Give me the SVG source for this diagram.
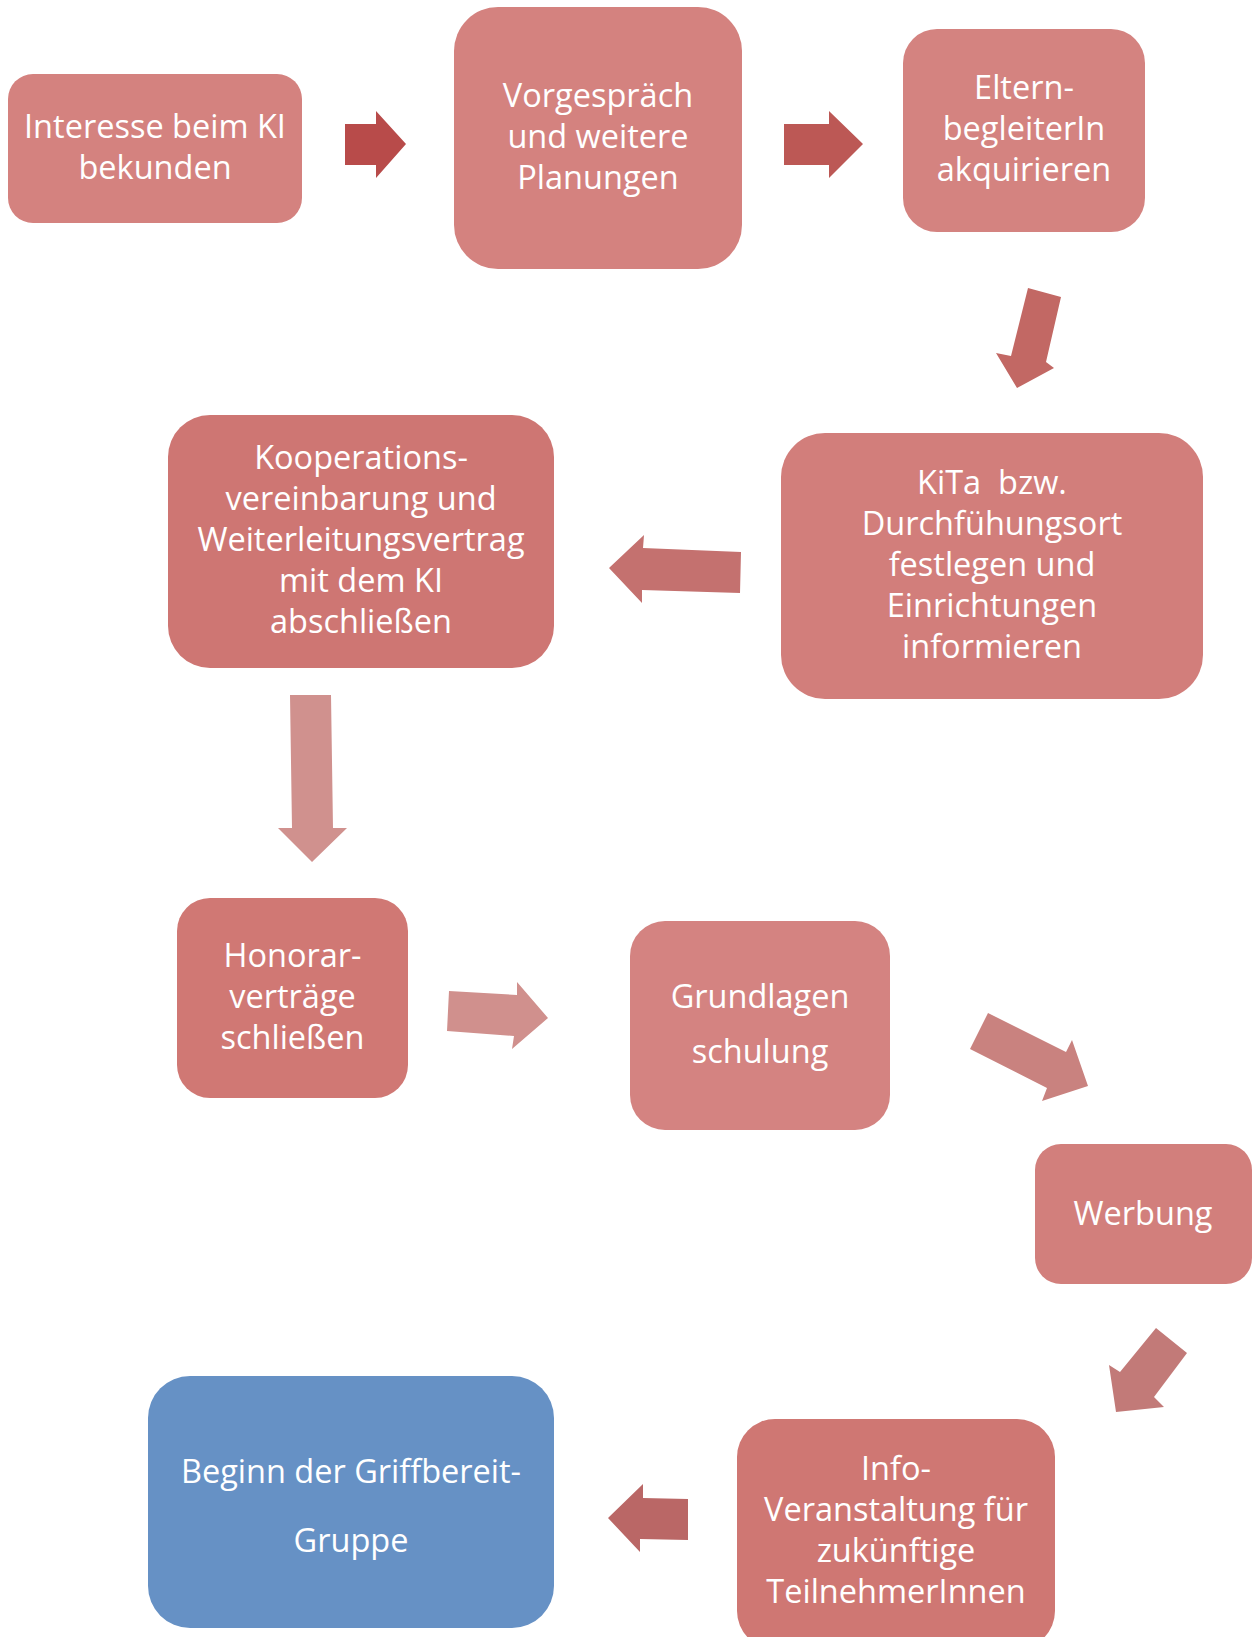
<svg xmlns="http://www.w3.org/2000/svg" width="1252" height="1637" viewBox="0 0 1252 1637">
<style>
  .lbl { font-family: "Open Sans", "Liberation Sans", sans-serif; font-size: 32.5px; fill: #ffffff; text-anchor: middle; }
</style>
<rect width="1252" height="1637" fill="#ffffff"/>
<g id="connectors">
  <polygon id="a1" fill="#B84B4A" points="345,124 376,124 376,111 406,144 376,178 376,165 345,165"/>
  <polygon id="a2" fill="#BC5855" points="784,124 829,124 829,111 863,144 829,178 829,165 784,165"/>
  <polygon id="a3" fill="#C26864" points="1028,288 1061,297 1046,362 1054,368 1017,388 996,353 1011,356"/>
  <polygon id="a4" fill="#C4716F" points="609,568 644,535 643,548 741,552 740,593 642,590 642,603"/>
  <polygon id="a5" fill="#D0918E" points="290,695 331,695 333,828 347,828 312,862 278,828 292,828"/>
  <polygon id="a6" fill="#D0908D" points="449,991 517,995 517,982 548,1018 512,1049 514,1036 447,1031"/>
  <polygon id="a7" fill="#C9827F" points="988,1013 1066,1052 1072,1040 1088,1086 1042,1101 1047,1088 970,1049"/>
  <polygon id="a8" fill="#C27A78" points="1156,1328 1187,1353 1154,1397 1164,1407 1116,1412 1109,1365 1120,1372"/>
  <polygon id="a9" fill="#BA6766" points="608,1518 643,1484 643,1498 688,1499 688,1540 640,1539 640,1552"/>
</g>
<g id="n1">
  <rect x="8" y="74" width="294" height="149" rx="25" fill="#D4827F"/>
  <text class="lbl" x="155" y="138">Interesse beim KI</text>
  <text class="lbl" x="155" y="179">bekunden</text>
</g>
<g id="n2">
  <rect x="454" y="7" width="288" height="262" rx="44" fill="#D4827F"/>
  <text class="lbl" x="598" y="107">Vorgespräch</text>
  <text class="lbl" x="598" y="148">und weitere</text>
  <text class="lbl" x="598" y="189">Planungen</text>
</g>
<g id="n3">
  <rect x="903" y="29" width="242" height="203" rx="34" fill="#D48380"/>
  <text class="lbl" x="1024" y="99">Eltern-</text>
  <text class="lbl" x="1024" y="140">begleiterIn</text>
  <text class="lbl" x="1024" y="181">akquirieren</text>
</g>
<g id="n4">
  <rect x="168" y="415" width="386" height="253" rx="42" fill="#CE7673"/>
  <text class="lbl" x="361" y="469">Kooperations-</text>
  <text class="lbl" x="361" y="510">vereinbarung und</text>
  <text class="lbl" x="361" y="551">Weiterleitungsvertrag</text>
  <text class="lbl" x="361" y="592">mit dem KI</text>
  <text class="lbl" x="361" y="633">abschließen</text>
</g>
<g id="n5">
  <rect x="781" y="433" width="422" height="266" rx="44" fill="#D27E7B"/>
  <text class="lbl" x="992" y="494" xml:space="preserve">KiTa  bzw.</text>
  <text class="lbl" x="992" y="535">Durchfühungsort</text>
  <text class="lbl" x="992" y="576">festlegen und</text>
  <text class="lbl" x="992" y="617">Einrichtungen</text>
  <text class="lbl" x="992" y="658">informieren</text>
</g>
<g id="n6">
  <rect x="177" y="898" width="231" height="200" rx="33" fill="#D07874"/>
  <text class="lbl" x="292.5" y="967">Honorar-</text>
  <text class="lbl" x="292.5" y="1008">verträge</text>
  <text class="lbl" x="292.5" y="1049">schließen</text>
</g>
<g id="n7">
  <rect x="630" y="921" width="260" height="209" rx="35" fill="#D48381"/>
  <text class="lbl" x="760" y="1008">Grundlagen</text>
  <text class="lbl" x="760" y="1063">schulung</text>
</g>
<g id="n8">
  <rect x="1035" y="1144" width="217" height="140" rx="26" fill="#D27F7C"/>
  <text class="lbl" x="1143" y="1225">Werbung</text>
</g>
<g id="n9">
  <rect x="737" y="1419" width="318" height="230" rx="38" fill="#CF7773"/>
  <text class="lbl" x="896" y="1480">Info-</text>
  <text class="lbl" x="896" y="1521">Veranstaltung für</text>
  <text class="lbl" x="896" y="1562">zukünftige</text>
  <text class="lbl" x="896" y="1603">TeilnehmerInnen</text>
</g>
<g id="n10">
  <rect x="148" y="1376" width="406" height="252" rx="42" fill="#6691C5"/>
  <text class="lbl" x="351" y="1483">Beginn der Griffbereit-</text>
  <text class="lbl" x="351" y="1552">Gruppe</text>
</g>
</svg>
